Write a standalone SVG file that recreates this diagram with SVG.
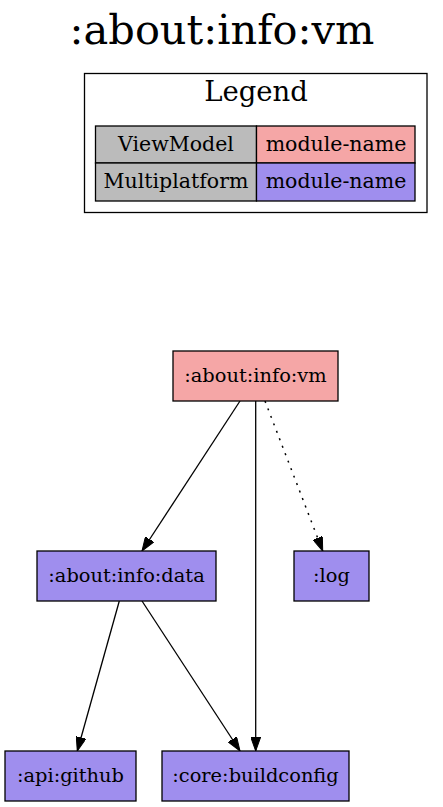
<svg xmlns="http://www.w3.org/2000/svg" width="443" height="807" viewBox="0 0 443 807">
<style>
text { font-family: "DejaVu Serif", serif; fill: #000; text-anchor: middle; }
.title { font-size: 41.5px; }
.lt { font-size: 27.5px; }
.cell { font-size: 20.5px; }
.nt { font-size: 19.4px; }
.vm { fill: #f5a6a6; stroke: #000; stroke-width: 1.3; }
.mp { fill: #9f8eee; stroke: #000; stroke-width: 1.3; }
.gray { fill: #bbbbbb; stroke: #000; stroke-width: 1.3; }
.edge { stroke: #000; stroke-width: 1.3; fill: none; }
.dot { stroke-dasharray: 2 6; stroke-width: 1.5; }
</style>
<defs>
<marker id="ah" viewBox="0 0 14 10" refX="14" refY="5" markerWidth="14" markerHeight="10" markerUnits="userSpaceOnUse" orient="auto">
<path d="M0,0 L14,5 L0,10 Z" fill="#000" stroke="#000" stroke-width="1"/>
</marker>
</defs>
<rect width="443" height="807" fill="#fff"/>
<text class="title" x="222" y="44">:about:info:vm</text>
<g id="legend">
<rect x="84.5" y="73.5" width="342.5" height="139" fill="#fff" stroke="#000" stroke-width="1.3"/>
<text class="lt" x="256" y="101">Legend</text>
<rect class="gray" x="95.5" y="126" width="161" height="37"/>
<rect class="vm" x="256.5" y="126" width="158.5" height="37"/>
<rect class="gray" x="95.5" y="163" width="161" height="38"/>
<rect class="mp" x="256.5" y="163" width="158.5" height="38"/>
<text class="cell" x="176" y="151">ViewModel</text>
<text class="cell" x="336" y="151">module-name</text>
<text class="cell" x="176" y="188">Multiplatform</text>
<text class="cell" x="336" y="188">module-name</text>
</g>
<g id="connectors">
<path class="edge" d="M240,401 L142,551" marker-end="url(#ah)"/>
<path class="edge" d="M255.7,401 L255.7,751" marker-end="url(#ah)"/>
<path class="edge dot" d="M265,401 L322.7,551" marker-end="url(#ah)"/>
<path class="edge" d="M119.3,601 L77.3,751" marker-end="url(#ah)"/>
<path class="edge" d="M142,601 L240,751" marker-end="url(#ah)"/>
</g>
<g id="node-vm">
<rect class="vm" x="173" y="351" width="165" height="50"/>
<text class="nt" x="255.5" y="382">:about:info:vm</text>
</g>
<g id="node-data">
<rect class="mp" x="37" y="551" width="179" height="50"/>
<text class="nt" x="126.5" y="582">:about:info:data</text>
</g>
<g id="node-log">
<rect class="mp" x="294" y="551" width="75" height="50"/>
<text class="nt" x="331.5" y="582">:log</text>
</g>
<g id="node-github">
<rect class="mp" x="5" y="751" width="131" height="50"/>
<text class="nt" x="70.5" y="782">:api:github</text>
</g>
<g id="node-buildconfig">
<rect class="mp" x="162" y="751" width="187" height="50"/>
<text class="nt" x="255.5" y="782">:core:buildconfig</text>
</g>
</svg>
